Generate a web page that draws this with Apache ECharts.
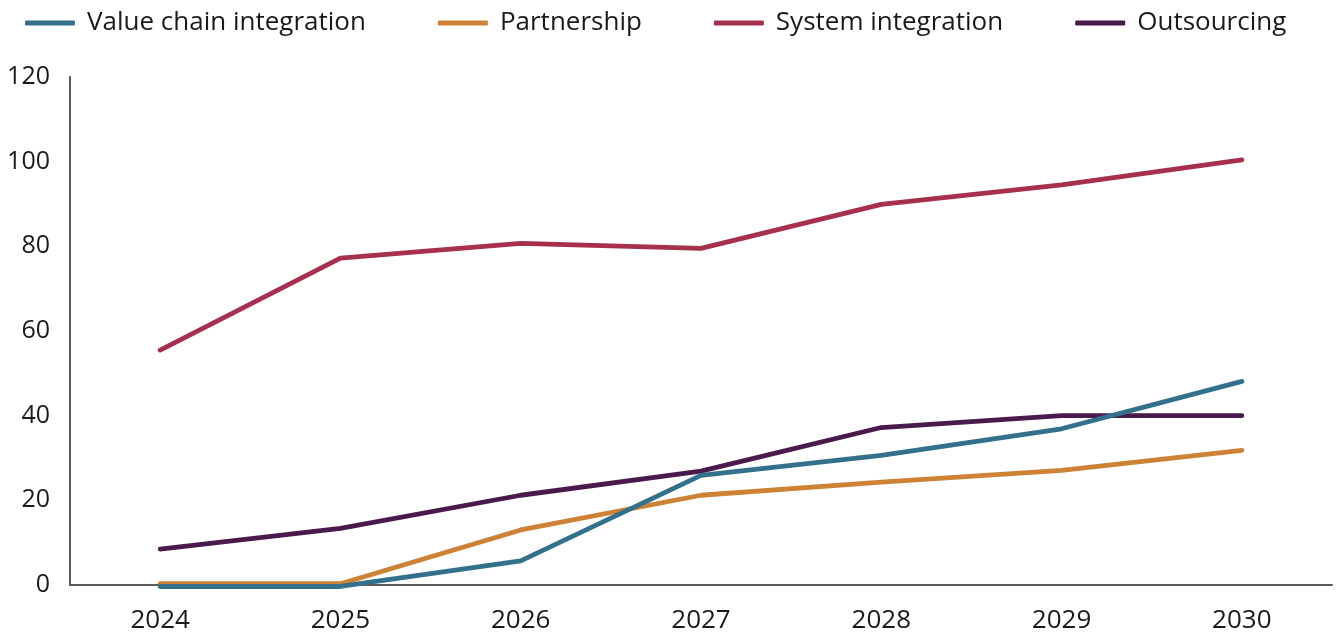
<!DOCTYPE html>
<html>
<head>
<meta charset="utf-8">
<title>Integration models, 2024–2030</title>
<script src="https://cdn.jsdelivr.net/npm/echarts@6/dist/echarts.min.js"></script>
<style>
  html, body { margin: 0; padding: 0; background: #ffffff; }
  #chart { width: 1340px; height: 635px; }
</style>
</head>
<body>
<div id="chart"></div>
<script>
// Years on the horizontal axis
const years = ['2024', '2025', '2026', '2027', '2028', '2029', '2030'];

// Series values per year
const valueChainIntegration = [-0.35, -0.35, 5.7, 25.9, 30.6, 36.9, 48.1];
const partnership           = [0.3, 0.3, 13.0, 21.2, 24.3, 27.1, 31.8];
const systemIntegration     = [55.5, 77.2, 80.7, 79.5, 89.9, 94.5, 100.4];
const outsourcing           = [8.5, 13.4, 21.2, 26.9, 37.2, 40.0, 40.0];

// Vertical axis ticks
const yTicks = [0, 20, 40, 60, 80, 100, 120];

const FONT = '"Open Sans", Roboto, sans-serif';
const TEXT = '#1a1a1a';

function lineSeries(name, data, color, z) {
  return {
    name: name,
    type: 'line',
    data: data,
    symbol: 'none',
    smooth: false,
    clip: false,
    z: z,
    lineStyle: { color: color, width: 4.8, cap: 'round', join: 'round' },
    itemStyle: { color: color }
  };
}

const chart = echarts.init(document.getElementById('chart'), null, { renderer: 'canvas' });

chart.setOption({
  animation: false,
  backgroundColor: '#ffffff',
  legend: {
    left: 20,
    top: 5,
    icon: 'roundRect',
    itemWidth: 50,
    itemHeight: 5,
    itemGap: 72,
    textStyle: { fontFamily: FONT, fontSize: 26, color: TEXT, padding: [0, 0, 0, 7] },
    data: ['Value chain integration', 'Partnership', 'System integration', 'Outsourcing']
  },
  grid: { left: 70, right: 8, top: 77, bottom: 50, containLabel: false },
  xAxis: {
    type: 'category',
    data: years,
    boundaryGap: true,
    axisLine: { show: true, lineStyle: { color: '#5a5a5a', width: 2 } },
    axisTick: { show: false },
    axisLabel: { fontFamily: FONT, fontSize: 26, color: TEXT, margin: 23 },
    splitLine: { show: false }
  },
  yAxis: {
    type: 'value',
    min: yTicks[0],
    max: yTicks[yTicks.length - 1],
    interval: yTicks[1] - yTicks[0],
    axisLine: { show: true, lineStyle: { color: '#5a5a5a', width: 2 } },
    axisTick: { show: false },
    axisLabel: { fontFamily: FONT, fontSize: 25, color: TEXT, margin: 20 },
    splitLine: { show: false }
  },
  series: [
    lineSeries('Value chain integration', valueChainIntegration, '#32708b', 5),
    lineSeries('Partnership', partnership, '#cd8235', 3),
    lineSeries('System integration', systemIntegration, '#a8304f', 3),
    lineSeries('Outsourcing', outsourcing, '#4a1a4c', 4)
  ]
});
</script>
</body>
</html>
